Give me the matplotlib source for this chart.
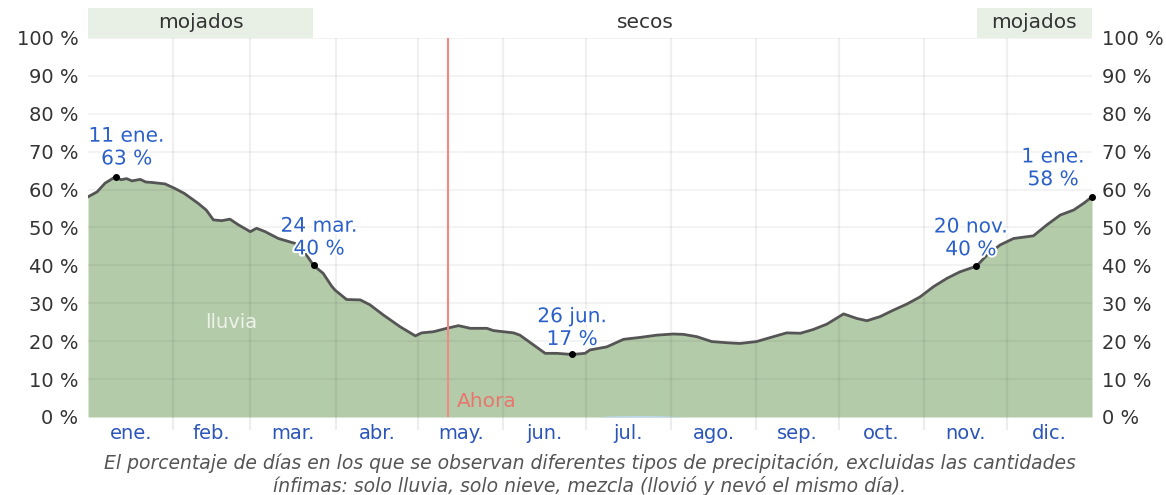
import matplotlib
matplotlib.use("Agg")
import matplotlib.pyplot as plt
import matplotlib.patheffects as pe
import matplotlib.transforms as mtransforms
import numpy as np

# ---- data ----
month_labels = ["ene.", "feb.", "mar.", "abr.", "may.", "jun.", "jul.", "ago.", "sep.", "oct.", "nov.", "dic."]
month_starts = [0, 31, 59, 90, 120, 151, 181, 212, 243, 273, 304, 334, 365]

rain_days = [0, 3.3, 6.2, 10, 12, 14, 16, 19, 21, 23, 28, 31.6, 35, 40, 43, 45.6, 48.6, 51.6, 54.7, 59,
             61.3, 64.4, 69.2, 75.3, 79, 82, 85.5, 88.6, 89.8, 94, 99, 102.5, 107.4, 113.5, 119,
             121.3, 125.6, 130.4, 134.7, 139, 145, 147.4, 154.7, 157, 162, 166.2, 170.4, 176,
             180.7, 182.5, 188.6, 194.7, 200.7, 206.8, 212.8, 216.5, 221.3, 226.8, 232.2, 237,
             243, 249.2, 254, 259, 263.7, 268.6, 274.7, 279.5, 283.2, 288, 292.8, 297.7, 302.5,
             307.4, 312.3, 317, 323, 326.8, 331.6, 336.5, 343.7, 348.6, 353.5, 358.3, 362, 365]
rain_pct = [58.1, 59.4, 61.7, 63.4, 62.6, 62.9, 62.3, 62.7, 62.0, 61.9, 61.5, 60.3, 59.0, 56.4, 54.6, 52.0,
            51.8, 52.2, 50.7, 48.9, 49.8, 48.9, 47.1, 45.8, 43.2, 40.0, 37.9, 34.5, 33.5, 31.0,
            30.9, 29.6, 26.9, 23.8, 21.4, 22.2, 22.5, 23.4, 24.1, 23.4, 23.4, 22.8, 22.2, 21.6,
            19.0, 16.8, 16.8, 16.5, 16.8, 17.7, 18.5, 20.5, 21.0, 21.6, 21.9, 21.8, 21.2, 19.9,
            19.6, 19.4, 19.9, 21.2, 22.2, 22.1, 23.1, 24.5, 27.2, 26.0, 25.4, 26.5, 28.2, 29.8,
            31.7, 34.4, 36.6, 38.3, 39.8, 42.7, 45.4, 47.1, 47.8, 50.7, 53.3, 54.6, 56.4, 58.1]

mix_days = [185, 190, 200, 210, 217]
mix_pct = [0.0, 0.3, 0.4, 0.3, 0.0]

ann_days = [10, 82, 176, 323, 365]
ann_pct = [63.4, 40.0, 16.5, 39.8, 58.1]
ann_text = ["11 ene.\n63 %", "24 mar.\n40 %", "26 jun.\n17 %", "20 nov.\n40 %", "1 ene.\n58 %"]
ann_offsets = [(8, 21), (4, 20), (0, 19), (-4, 20), (-28, 20.5)]

now_day = 131
wet_periods = [(0, 81.8), (323.3, 365)]
season_labels = [("mojados", 40.9), ("secos", 202.5), ("mojados", 344)]

yticks = list(range(0, 101, 10))
ytick_labels = [f"{v} %" for v in yticks]

# ---- figure ----
fig = plt.figure(figsize=(11.66, 4.95), dpi=100)
ax = fig.add_axes([88 / 1166, 1 - 417 / 495, (1092 - 88) / 1166, (417 - 38) / 495])
ax.set_xlim(0, 365)
ax.set_ylim(0, 100)

fill_c = "#b4cbaa"
ax.fill_between(rain_days, 0, rain_pct, color=fill_c, lw=0, zorder=1)
ax.plot(rain_days, rain_pct, color="#555555", lw=2, zorder=4, solid_joinstyle="round")
ax.fill_between(mix_days, 0, mix_pct, color="#bcd8f0", lw=0, zorder=2)

# grid on top of fill (translucent)
for m in month_starts[1:-1]:
    ax.axvline(m, color=(0, 0, 0, 0.06), lw=1.6, zorder=3)
for y in yticks[1:]:
    ax.axhline(y, color=(0, 0, 0, 0.05), lw=1.3, zorder=3)

for s in ax.spines.values():
    s.set_visible(False)

mid = [(month_starts[i] + month_starts[i + 1]) / 2 for i in range(12)]
ax.set_xticks(mid)
ax.set_xticklabels(month_labels, color="#2b55b8", fontsize=14)
ax.set_xticks(month_starts[1:-1], minor=True)
ax.tick_params(axis="x", which="major", length=0, pad=5)
ax.tick_params(axis="x", which="minor", length=9, color=(0, 0, 0, 0.07), width=1.6)

ax.set_yticks(yticks)
ax.set_yticklabels(ytick_labels, fontsize=14, color="#333333")
ax.tick_params(axis="y", length=0, pad=7, labelright=True, right=False)

# now line
ax.axvline(now_day, color="#f08a84", lw=1.5, zorder=5)
ax.text(now_day + 3, 4, "Ahora", color="#e8766e", fontsize=14.5, va="center", ha="left", zorder=6)

ax.text(52, 25, "lluvia", color="#eef3ea", fontsize=14, ha="center", va="center", zorder=6)

# annotations
halo = [pe.withStroke(linewidth=3, foreground="white")]
for d, v, t, off in zip(ann_days, ann_pct, ann_text, ann_offsets):
    ax.plot([d], [v], "o", color="black", ms=4, zorder=7, clip_on=False)
    ax.annotate(t, (d, v), xytext=off, textcoords="offset points", ha="center", va="center",
                color="#2b60c8", fontsize=14.5, linespacing=1.25, zorder=8, path_effects=halo,
                annotation_clip=False)

# season bands
trans = mtransforms.blended_transform_factory(ax.transData, ax.transAxes)
for a, b in wet_periods:
    ax.add_patch(plt.Rectangle((a, 1.0), b - a, 30 / 379, transform=trans, color="#e8efe5",
                               lw=0, clip_on=False, zorder=0))
for txt, d in season_labels:
    ax.text(d, 1 + 15 / 379, txt, transform=trans, ha="center", va="center", fontsize=14.5,
            color="#333333")

fig.text(590 / 1166, 1 - 463 / 495,
         "El porcentaje de días en los que se observan diferentes tipos de precipitación, excluidas las cantidades",
         ha="center", va="center", style="italic", fontsize=13.5, color="#555555")
fig.text(590 / 1166, 1 - 486 / 495,
         "ínfimas: solo lluvia, solo nieve, mezcla (llovió y nevó el mismo día).",
         ha="center", va="center", style="italic", fontsize=13.5, color="#555555")

fig.savefig("out.png", dpi=100)
